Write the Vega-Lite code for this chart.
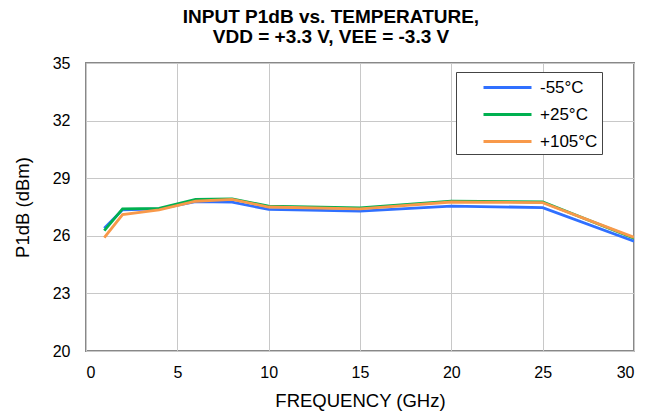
{
  "$schema": "https://vega.github.io/schema/vega-lite/v6.json",
  "width": 548,
  "height": 288,
  "autosize": {"type": "none"},
  "padding": {"left": 86, "top": 63, "right": 12, "bottom": 66},
  "background": "white",
  "title": {
    "text": ["INPUT P1dB vs. TEMPERATURE,", "VDD = +3.3 V, VEE = -3.3 V"],
    "font": "Liberation Sans",
    "fontSize": 19,
    "fontWeight": "bold",
    "color": "black",
    "anchor": "middle",
    "frame": "group",
    "baseline": "top",
    "lineHeight": 20,
    "dx": -29,
    "offset": 8
  },
  "data": {
    "values": [
      {"f": 1, "p": 26.4, "t": "-55°C"},
      {"f": 2, "p": 27.35, "t": "-55°C"},
      {"f": 4, "p": 27.4, "t": "-55°C"},
      {"f": 6, "p": 27.78, "t": "-55°C"},
      {"f": 8, "p": 27.75, "t": "-55°C"},
      {"f": 10, "p": 27.38, "t": "-55°C"},
      {"f": 15, "p": 27.29, "t": "-55°C"},
      {"f": 20, "p": 27.55, "t": "-55°C"},
      {"f": 25, "p": 27.47, "t": "-55°C"},
      {"f": 30, "p": 25.72, "t": "-55°C"},
      {"f": 1, "p": 26.27, "t": "+25°C"},
      {"f": 2, "p": 27.4, "t": "+25°C"},
      {"f": 4, "p": 27.43, "t": "+25°C"},
      {"f": 6, "p": 27.9, "t": "+25°C"},
      {"f": 8, "p": 27.92, "t": "+25°C"},
      {"f": 10, "p": 27.55, "t": "+25°C"},
      {"f": 15, "p": 27.45, "t": "+25°C"},
      {"f": 20, "p": 27.81, "t": "+25°C"},
      {"f": 25, "p": 27.76, "t": "+25°C"},
      {"f": 30, "p": 25.87, "t": "+25°C"},
      {"f": 1, "p": 25.9, "t": "+105°C"},
      {"f": 2, "p": 27.1, "t": "+105°C"},
      {"f": 4, "p": 27.35, "t": "+105°C"},
      {"f": 6, "p": 27.8, "t": "+105°C"},
      {"f": 8, "p": 27.9, "t": "+105°C"},
      {"f": 10, "p": 27.5, "t": "+105°C"},
      {"f": 15, "p": 27.4, "t": "+105°C"},
      {"f": 20, "p": 27.76, "t": "+105°C"},
      {"f": 25, "p": 27.73, "t": "+105°C"},
      {"f": 30, "p": 25.92, "t": "+105°C"}
    ]
  },
  "mark": {"type": "line", "strokeWidth": 2.8, "clip": true},
  "encoding": {
    "x": {
      "field": "f", "type": "quantitative",
      "scale": {"domain": [0, 30], "nice": false, "zero": false},
      "axis": {"values": [0, 5, 10, 15, 20, 25, 30], "title": "FREQUENCY (GHz)", "labelPadding": 13, "titlePadding": 11}
    },
    "y": {
      "field": "p", "type": "quantitative",
      "scale": {"domain": [20, 35], "nice": false, "zero": false},
      "axis": {"values": [20, 23, 26, 29, 32, 35], "title": "P1dB (dBm)", "labelPadding": 16, "titlePadding": 20}
    },
    "color": {
      "field": "t", "type": "nominal",
      "scale": {"domain": ["-55°C", "+25°C", "+105°C"], "range": ["#3070ff", "#00b050", "#f8994a"]},
      "legend": {
        "title": null,
        "orient": "none",
        "legendX": 370,
        "legendY": 9,
        "symbolType": "M-2.4,0H2.4",
        "symbolSize": 400,
        "symbolStrokeWidth": 3,
        "strokeColor": "#444",
        "fillColor": "white",
        "padding": 4,
        "symbolOffset": 36,
        "labelOffset": 21,
        "labelExpr": "datum.label + '         '",
        "labelFont": "Liberation Sans",
        "labelFontSize": 17,
        "labelColor": "black",
        "rowPadding": 7
      }
    },
    "order": {"field": "f", "type": "quantitative"}
  },
  "config": {
    "view": {"stroke": "#888", "strokeWidth": 2},
    "axis": {
      "domain": false,
      "ticks": false,
      "grid": true,
      "gridColor": "#c8c8c8",
      "gridWidth": 1,
      "labelFont": "Liberation Sans",
      "labelFontSize": 16,
      "labelColor": "black",
      "titleFont": "Liberation Sans",
      "titleFontSize": 18.5,
      "titleFontWeight": "normal",
      "titleColor": "black"
    }
  }
}
